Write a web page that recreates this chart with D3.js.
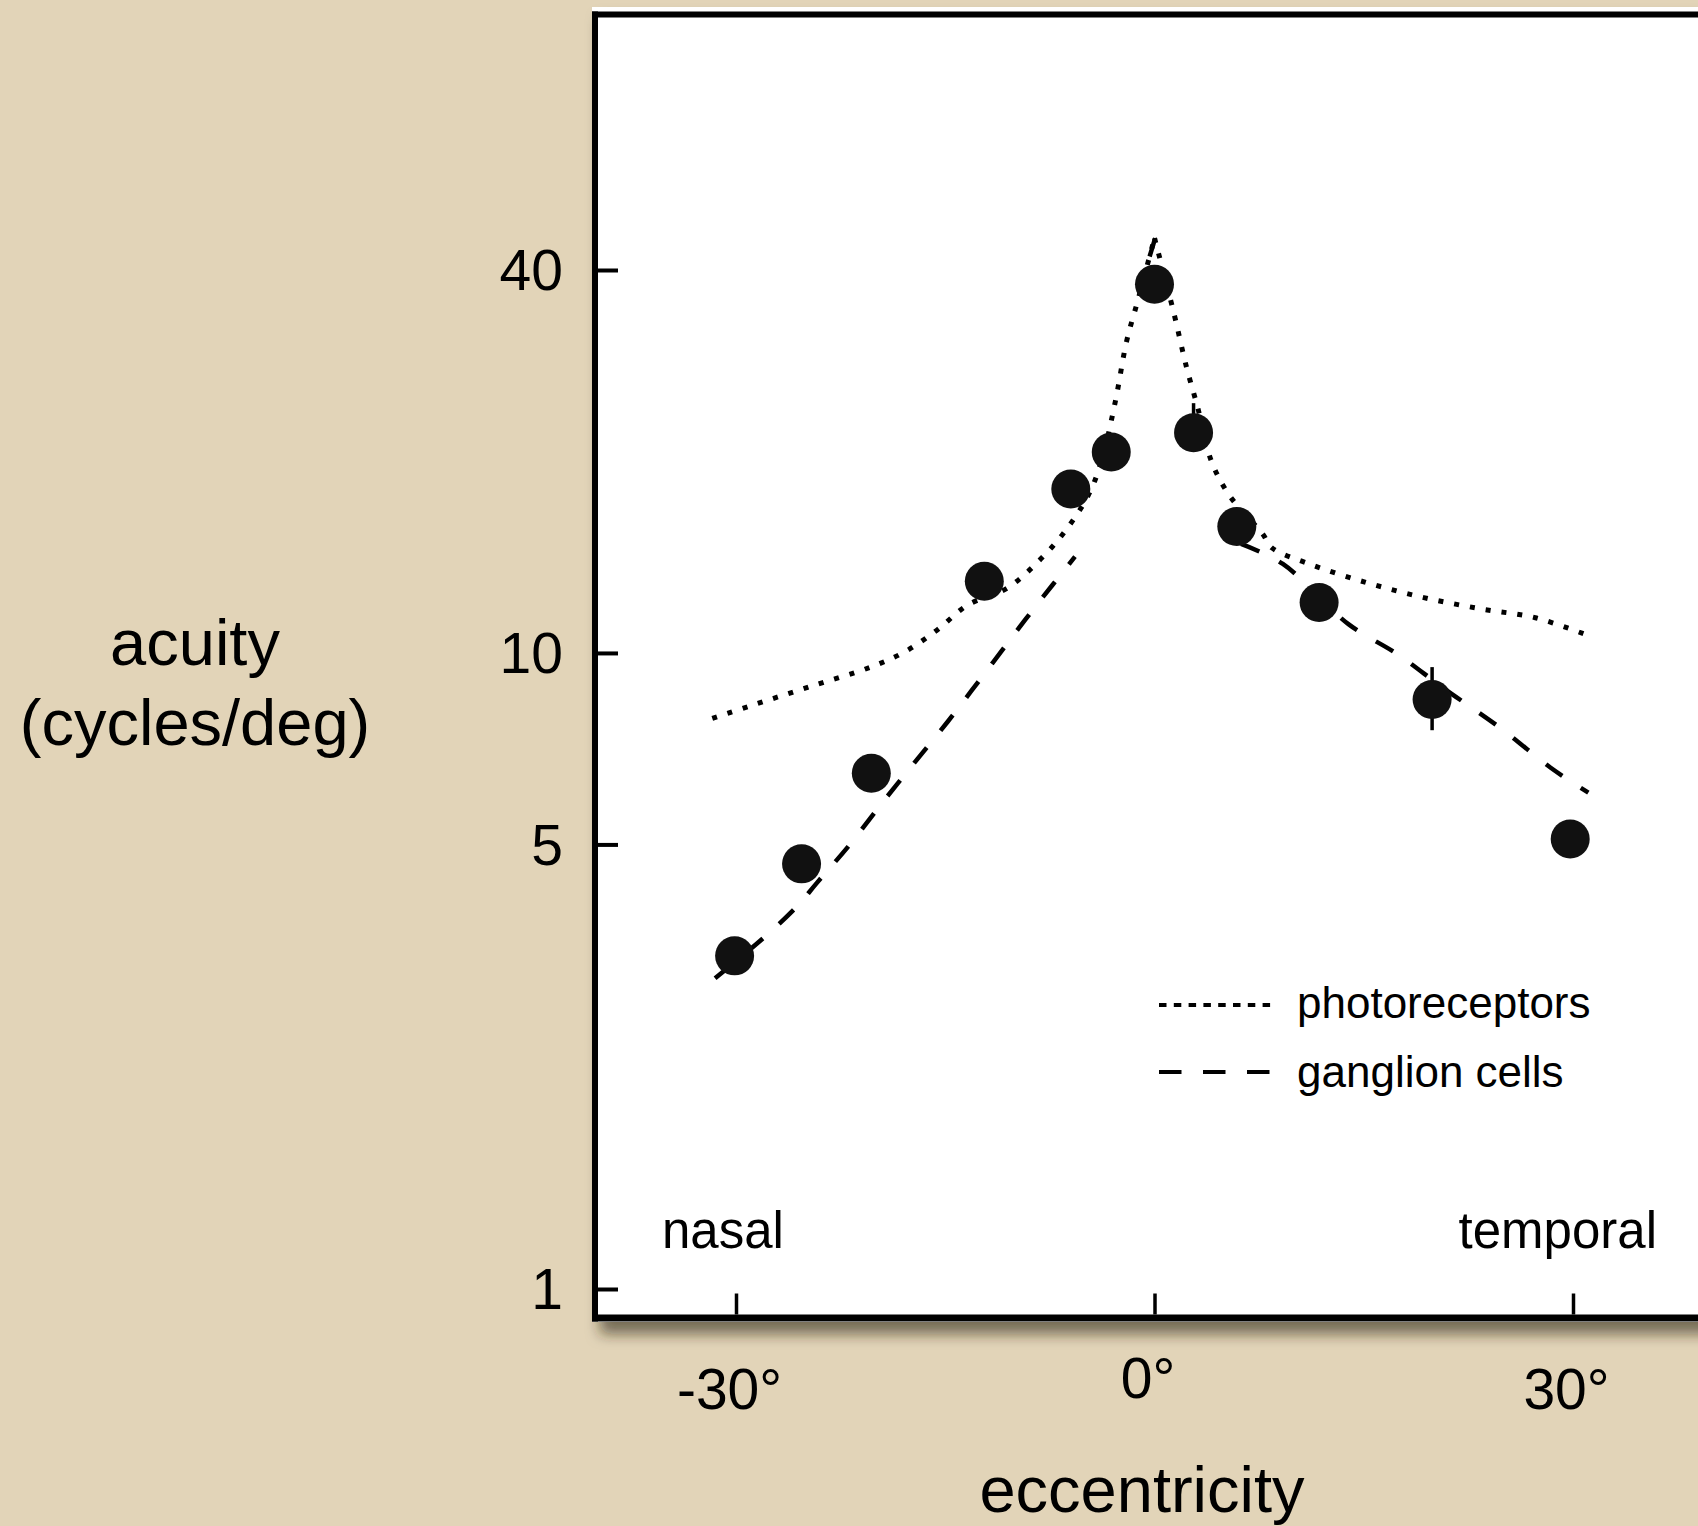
<!DOCTYPE html>
<html>
<head>
<meta charset="utf-8">
<script src="https://cdn.jsdelivr.net/npm/d3@7"></script>
<style>
  html, body { margin: 0; padding: 0; background: #e2d4b8; }
  svg { display: block; }
  text { font-family: "Liberation Sans", Arial, Helvetica, sans-serif; fill: #000; }
</style>
</head>
<body>
<svg id="chart" width="1698" height="1526"></svg>
<script>
// ---------------- data ----------------
const yTicks = [1, 5, 10, 40];
const xTicks = [-30, 0, 30];

// measured acuity points (eccentricity in deg, acuity in cycles/deg)
const pointEcc    = [-30.1, -25.3, -20.3, -12.2, -6.0, -3.1, 0, 2.8, 5.9, 11.8, 19.9, 29.8];
const pointAcuity = [3.34, 4.66, 6.47, 12.96, 18.1, 20.7, 38.0, 22.2, 15.8, 12.0, 8.45, 5.10];

// error bars visible in the figure
const errEcc  = [2.8, 19.9];
const errHigh = [24.7, 9.5];
const errLow  = [22.2, 7.56];

// photoreceptor prediction (dotted)
const photoEcc    = [-31.7, -28.8, -24.7, -20.3, -17.9, -15.6, -13.4, -10.5, -8.3, -6.4, -4.7, -3.8, -2.8, -2.0, -1.2, 0,
                     1.35, 2.3, 3.1, 4.1, 5.4, 7.75, 8.4, 11.1, 15.2, 19.3, 23.4, 27.3, 31.2];
const photoAcuity = [7.89, 8.28, 8.85, 9.51, 10.04, 10.86, 11.89, 12.67, 13.95, 15.55, 17.78, 20.04, 24.9, 30.9, 35.8, 44.9,
                     34.5, 28.1, 24.3, 19.97, 17.65, 15.39, 14.64, 13.8, 12.9, 12.22, 11.73, 11.36, 10.63];

// ganglion cell prediction (dashed); null = hidden under the dotted curve
const gangEcc    = [-31.5, -28.0, -25.7, -24.2, -21.8, -19.5, -17.0, -14.8, -11.6, -9.25, -7.3, -5.7,
                    -3, -0.35, 0.05, 3,
                    6.2, 9.2, 13.9, 17.4, 20.7, 24.8, 28.4, 31.1];
const gangAcuity = [3.08, 3.57, 3.98, 4.35, 5.01, 5.82, 6.81, 7.81, 9.65, 11.29, 12.80, 14.17,
                    null, 42.0, 44.9, null,
                    14.84, 13.8, 11.1, 9.96, 8.81, 7.62, 6.6, 6.03];

const legendLabels = ["photoreceptors", "ganglion cells"];

// ---------------- drawing ----------------
const svg = d3.select("#chart");
const x = d3.scaleLinear().domain([-30, 30]).range([736, 1573]);
const y = d3.scaleLog().domain([1, 40]).range([1289, 270]);

const defs = svg.append("defs");
const f = defs.append("filter").attr("id", "shadow")
  .attr("x", "-5%").attr("y", "-5%").attr("width", "115%").attr("height", "115%");
f.append("feDropShadow").attr("dx", 8).attr("dy", 12).attr("stdDeviation", 7)
  .attr("flood-color", "#2e2618").attr("flood-opacity", 0.6);

// white panel with shadow
svg.append("rect")
  .attr("x", 592).attr("y", 7)
  .attr("width", 1698 - 592 + 60).attr("height", 1322 - 7)
  .attr("fill", "#ffffff")
  .attr("filter", "url(#shadow)");

// frame
svg.append("line").attr("x1", 595).attr("x2", 595).attr("y1", 11.5).attr("y2", 1321.5)
  .attr("stroke", "#000").attr("stroke-width", 6);
svg.append("line").attr("x1", 592).attr("x2", 1698).attr("y1", 14.5).attr("y2", 14.5)
  .attr("stroke", "#000").attr("stroke-width", 6);
svg.append("line").attr("x1", 592).attr("x2", 1698).attr("y1", 1318).attr("y2", 1318)
  .attr("stroke", "#000").attr("stroke-width", 7);

const fontFam = '"Liberation Sans", Arial, Helvetica, sans-serif';

// y axis
const gy = svg.append("g").attr("transform", "translate(598,0)")
  .call(d3.axisLeft(y).tickValues(yTicks).tickFormat(d3.format("d")).tickSize(-20).tickPadding(35));
gy.select(".domain").remove();
gy.selectAll(".tick line").attr("stroke", "#000").attr("stroke-width", 4);
gy.selectAll(".tick text").attr("font-size", 57).attr("font-family", fontFam).attr("fill", "#000").attr("dy", "0.35em");

// x axis
const gx = svg.append("g").attr("transform", "translate(0,1314.5)")
  .call(d3.axisBottom(x).tickValues(xTicks).tickFormat(d => d + "°").tickSize(-21).tickPadding(10));
gx.select(".domain").remove();
gx.selectAll(".tick line").attr("stroke", "#000").attr("stroke-width", 3.5);
gx.selectAll(".tick text").attr("font-size", 57).attr("font-family", fontFam).attr("fill", "#000")
  .attr("dy", 0).attr("dx", -7)
  .attr("y", d => (d === 0 ? 1398 : 1409) - 1314.5);

// curves
const line = d3.line().defined(d => d.a != null).x(d => x(d.e)).y(d => y(d.a))
  .curve(d3.curveCatmullRom.alpha(0.5));
const photo = photoEcc.map((e, i) => ({ e, a: photoAcuity[i] }));
const gang = gangEcc.map((e, i) => ({ e, a: gangAcuity[i] }));
const peakIdx = photoAcuity.indexOf(d3.max(photoAcuity));
const photoParts = [photo.slice(0, peakIdx + 1), photo.slice(peakIdx)];

svg.append("path").datum(gang).attr("d", line)
  .attr("fill", "none").attr("stroke", "#000").attr("stroke-width", 4.5)
  .attr("stroke-dasharray", "20 22");
svg.selectAll(".photo").data(photoParts).enter().append("path")
  .attr("d", line)
  .attr("fill", "none").attr("stroke", "#000").attr("stroke-width", 5)
  .attr("stroke-dasharray", "5 11");

// error bars
svg.selectAll(".err").data(errEcc).enter().append("line")
  .attr("x1", d => x(d)).attr("x2", d => x(d))
  .attr("y1", (d, i) => y(errHigh[i])).attr("y2", (d, i) => y(errLow[i]))
  .attr("stroke", "#000").attr("stroke-width", 3.5);

// points
svg.selectAll(".pt").data(pointEcc).enter().append("circle")
  .attr("cx", d => x(d)).attr("cy", (d, i) => y(pointAcuity[i]))
  .attr("r", 19.5).attr("fill", "#111");

// legend
svg.append("line").attr("x1", 1159).attr("x2", 1271).attr("y1", 1005).attr("y2", 1005)
  .attr("stroke", "#000").attr("stroke-width", 4).attr("stroke-dasharray", "7.5 7.3");
svg.append("line").attr("x1", 1159).attr("x2", 1271).attr("y1", 1072).attr("y2", 1072)
  .attr("stroke", "#000").attr("stroke-width", 4).attr("stroke-dasharray", "22.5 21.5");
svg.append("text").attr("x", 1297).attr("y", 1018).attr("font-size", 44).text(legendLabels[0]);
svg.append("text").attr("x", 1297).attr("y", 1087).attr("font-size", 44).text(legendLabels[1]);

// side labels
svg.append("text").attr("x", 662).attr("y", 1248).attr("font-size", 51).text("nasal");
svg.append("text").attr("x", 1657).attr("y", 1248).attr("font-size", 51).attr("text-anchor", "end").text("temporal");

// axis titles
svg.append("text").attr("x", 195).attr("y", 665).attr("font-size", 65).attr("text-anchor", "middle").text("acuity");
svg.append("text").attr("x", 195).attr("y", 745).attr("font-size", 65).attr("text-anchor", "middle").text("(cycles/deg)");
svg.append("text").attr("x", 1142).attr("y", 1512).attr("font-size", 65).attr("text-anchor", "middle").text("eccentricity");
</script>
</body>
</html>
